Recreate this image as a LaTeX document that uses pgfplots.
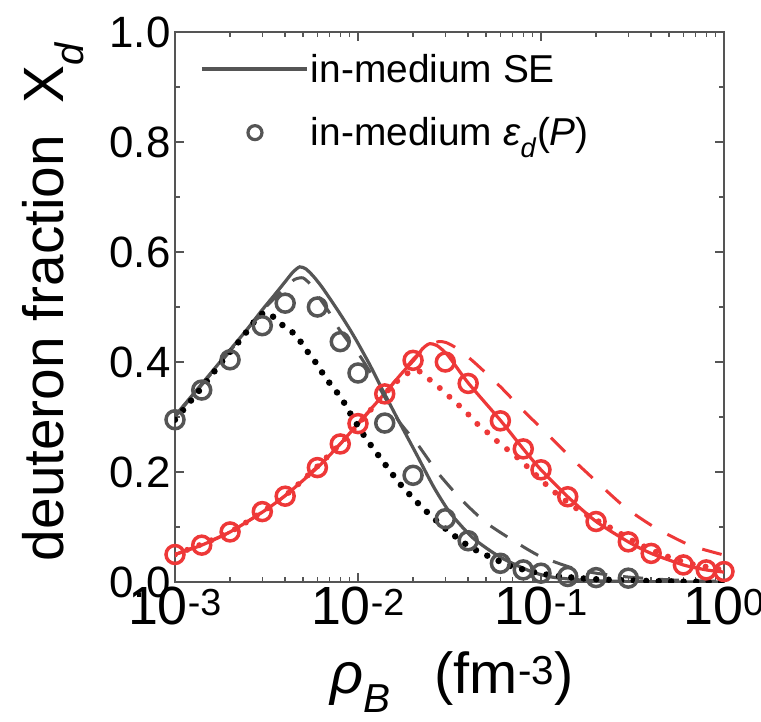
\documentclass[border=0pt]{standalone}
\usepackage{fontspec}
\setmainfont{Liberation Sans}
\usepackage{pgfplots}
\pgfplotsset{compat=1.18}
\definecolor{sgray}{RGB}{85,85,85}
\definecolor{sred}{RGB}{238,56,56}

% gray: in-medium SE (solid), dashed and dotted variants, in-medium eps_d(P) (circles)
\pgfplotstableread{
x y
1e-3 0.302
1.5e-3 0.372
2e-3 0.422
2.5e-3 0.461
3e-3 0.495
3.5e-3 0.522
4e-3 0.546
4.4e-3 0.563
4.8e-3 0.573
5.2e-3 0.569
5.7e-3 0.556
6.3e-3 0.538
7e-3 0.516
8e-3 0.487
9e-3 0.460
1e-2 0.434
1.16e-2 0.395
1.32e-2 0.358
1.65e-2 0.296
2.09e-2 0.232
2.6e-2 0.172
3.2e-2 0.125
4.25e-2 0.080
6e-2 0.045
9e-2 0.018
1.2e-1 0.008
2e-1 0.002
5e-1 0.0003
1 0
}\seSolid

\pgfplotstableread{
x y
1e-3 0.300
2e-3 0.420
3e-3 0.493
4e-3 0.535
4.5e-3 0.550
5e-3 0.553
5.5e-3 0.541
6e-3 0.522
7e-3 0.489
7.8e-3 0.462
9e-3 0.434
1.04e-2 0.408
1.3e-2 0.355
1.65e-2 0.295
2.13e-2 0.249
2.74e-2 0.198
3.69e-2 0.149
5.05e-2 0.107
7.4e-2 0.071
1e-1 0.046
1.5e-1 0.025
2e-1 0.016
3e-1 0.009
5e-1 0.004
1 0.001
}\seDashed

\pgfplotstableread{
x y
1e-3 0.295
1.13e-3 0.316
1.46e-3 0.361
1.84e-3 0.404
2.3e-3 0.442
2.62e-3 0.467
2.9e-3 0.485
3.2e-3 0.490
3.5e-3 0.480
4e-3 0.463
4.58e-3 0.449
5.1e-3 0.426
5.74e-3 0.404
6.4e-3 0.380
7.2e-3 0.356
8.1e-3 0.335
8.9e-3 0.311
1.09e-2 0.264
1.37e-2 0.219
1.73e-2 0.175
2.27e-2 0.134
3.03e-2 0.096
4.18e-2 0.062
6.9e-2 0.028
8.3e-2 0.022
1e-1 0.015
1.5e-1 0.008
2e-1 0.005
3e-1 0.003
5e-1 0.001
1 0.0005
}\seDotted

\pgfplotstableread{
x y
1e-3 0.295
1.4e-3 0.349
2e-3 0.404
3e-3 0.466
4e-3 0.507
6e-3 0.500
8e-3 0.437
1e-2 0.380
1.4e-2 0.289
2e-2 0.194
3e-2 0.115
4e-2 0.075
6e-2 0.034
8e-2 0.022
1e-1 0.016
1.4e-1 0.010
2e-1 0.008
3e-1 0.007
}\epsCircles

% red series
\pgfplotstableread{
x y
1e-3 0.050
1.4e-3 0.067
2e-3 0.091
3e-3 0.127
4e-3 0.157
6e-3 0.208
8e-3 0.251
1e-2 0.288
1.4e-2 0.343
1.73e-2 0.379
2.04e-2 0.405
2.25e-2 0.424
2.45e-2 0.433
2.7e-2 0.430
3.1e-2 0.412
4e-2 0.362
6e-2 0.294
8e-2 0.242
1e-1 0.204
1.4e-1 0.155
2e-1 0.110
3e-1 0.073
4e-1 0.052
6e-1 0.031
8e-1 0.022
1 0.018
}\rSolid

\pgfplotstableread{
x y
1e-3 0.050
2e-3 0.091
4e-3 0.157
8e-3 0.251
1.4e-2 0.343
2e-2 0.405
2.4e-2 0.428
2.75e-2 0.437
3.05e-2 0.435
3.5e-2 0.424
4.3e-2 0.400
6e-2 0.355
8.1e-2 0.310
1.09e-1 0.268
1.5e-1 0.222
2.05e-1 0.180
2.9e-1 0.135
4.2e-1 0.099
6.5e-1 0.067
1 0.049
}\rDashed

\pgfplotstableread{
x y
1e-3 0.050
2e-3 0.091
4e-3 0.157
8e-3 0.251
1.4e-2 0.342
1.77e-2 0.375
2.1e-2 0.385
2.42e-2 0.370
2.86e-2 0.350
3.4e-2 0.327
3.85e-2 0.311
4.4e-2 0.290
5.05e-2 0.273
5.8e-2 0.255
6.9e-2 0.235
7.8e-2 0.220
1.03e-1 0.182
1.19e-1 0.163
1.67e-1 0.127
2.36e-1 0.100
3.3e-1 0.072
4.6e-1 0.050
6.4e-1 0.034
1 0.022
}\rDotted

\pgfplotstableread{
x y
1e-3 0.050
1.4e-3 0.067
2e-3 0.091
3e-3 0.128
4e-3 0.156
6e-3 0.208
8e-3 0.251
1e-2 0.288
1.4e-2 0.342
2e-2 0.403
3e-2 0.400
4e-2 0.361
6e-2 0.293
8e-2 0.242
1e-1 0.204
1.4e-1 0.155
2e-1 0.110
3e-1 0.073
4e-1 0.052
6e-1 0.031
8e-1 0.022
1 0.019
}\rCircles

\begin{document}
\begin{tikzpicture}
\path[use as bounding box] (-175bp,-140bp) rectangle (586bp,582bp);
\begin{axis}[
  at={(0,0)}, anchor=south west,
  scale only axis, width=549bp, height=550bp,
  xmode=log, xmin=1e-3, xmax=1, ymin=0, ymax=1,
  xtick={0.001,0.01,0.1,1},
  xticklabels={10\textsuperscript{-3},10\textsuperscript{-2},10\textsuperscript{-1},10\textsuperscript{0}},
  ytick={0,0.2,0.4,0.6,0.8,1},
  yticklabels={0.0,0.2,0.4,0.6,0.8,1.0},
  minor ytick={0.1,0.3,0.5,0.7,0.9},
  tick align=inside,
  major tick length=9bp, minor tick length=5bp,
  axis line style={sgray, line width=1.8bp},
  every tick/.style={sgray, line width=1.5bp},
  xticklabel style={font=\fontsize{54}{54}\selectfont, yshift=-1bp},
  yticklabel style={font=\fontsize{44}{44}\selectfont, xshift=-1bp},
  xlabel={\textit{ρ}\textsubscript{\textit{B}}\hspace{0.75em}(fm\textsuperscript{-3})},
  xlabel style={font=\fontsize{58}{58}\selectfont, at={(axis description cs:0.505,-0.182)}, anchor=center},
  ylabel={deuteron fraction\ \ X\textsubscript{\textit{d}}},
  ylabel style={font=\fontsize{57}{57}\selectfont, at={(axis description cs:-0.222,0.51)}, anchor=center},
  legend style={at={(axis description cs:0.0,1.0)}, anchor=north west, draw=none, fill=none,
    font=\fontsize{39}{39}\selectfont, row sep=30bp, inner xsep=25bp, inner ysep=20bp},
  legend cell align=left,
  clip=true,
]
% red group
\addplot[forget plot, sred, line width=3bp, dash pattern=on 20bp off 18bp, smooth, tension=0.4] table {\rDashed};
\addplot[forget plot, sred, line width=6bp, line cap=round, dash pattern=on 0bp off 13bp, smooth, tension=0.4] table {\rDotted};
\addplot[forget plot, sred, line width=3.2bp, smooth, tension=0.4] table {\rSolid};
\addplot[forget plot, only marks, mark=o, mark size=9bp, mark options={sred, line width=3.5bp}] table {\rCircles};
% gray group
\addplot[sgray, line width=3.2bp, smooth, tension=0.4,
  legend image code/.code={\draw[sgray, line width=3.6bp] (0bp,0bp) -- (105bp,0bp); \path[draw=none, fill=none] (0bp,0bp) -- (107bp,0bp);}] table {\seSolid};
\addlegendentry{in-medium SE}
\addplot[only marks, mark=o, mark size=9bp, mark options={sgray, line width=3.5bp},
  legend image code/.code={\draw[sgray, line width=3.2bp] (53bp,0bp) circle[radius=7bp]; \path[draw=none, fill=none] (0bp,0bp) -- (107bp,0bp);}] table {\epsCircles};
\addlegendentry{in-medium \textit{ε}\textsubscript{\textit{d}}(\textit{P})}
\addplot[forget plot, sgray, line width=3bp, dash pattern=on 20bp off 16bp, smooth, tension=0.4] table {\seDashed};
\addplot[forget plot, black, line width=6.5bp, line cap=round, dash pattern=on 0bp off 12.5bp, smooth, tension=0.4] table {\seDotted};
\end{axis}
\end{tikzpicture}
\end{document}
